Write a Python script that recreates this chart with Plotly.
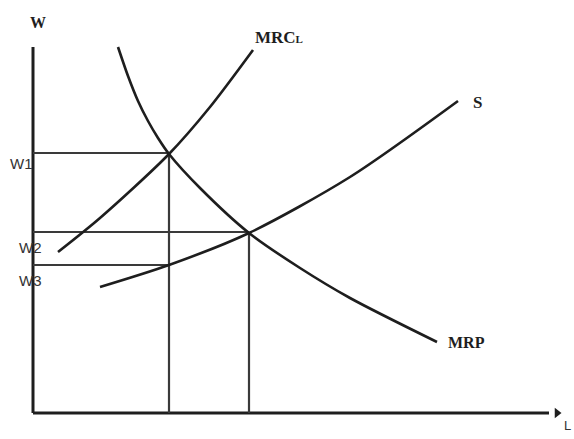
import plotly.graph_objects as go

# Curves (L on x, W on y, arbitrary units)
mrp_x = [8.5, 9.5, 10.5, 11.5, 12.5, 13.6, 16.7, 21.6, 26.7, 31.7, 40.4]
mrp_y = [36.6, 33.7, 31.2, 29.2, 27.5, 25.9, 22.5, 18.0, 14.5, 11.5, 7.1]

mrc_x = [2.5, 6.7, 13.6, 17.7, 22.0]
mrc_y = [16.1, 19.5, 25.9, 30.6, 36.3]

s_x = [6.7, 13.6, 21.6, 31.7, 42.5]
s_y = [12.6, 14.8, 18.0, 23.6, 31.2]

# Equilibrium levels
l1, l2 = 13.6, 21.6
w1, w2, w3 = 26.0, 18.1, 14.8
w_labels = ["W1", "W2", "W3"]

x_end, y_end = 52.4, 36.6

ink = "#1e1e1e"
guide = "#3a3a3a"

fig = go.Figure()

# axes
fig.add_trace(go.Scatter(x=[0, 0], y=[y_end, 0], mode="lines",
                         line=dict(color=ink, width=3)))
fig.add_trace(go.Scatter(x=[0, x_end - 0.8], y=[0, 0], mode="lines",
                         line=dict(color=ink, width=3)))
fig.add_trace(go.Scatter(x=[x_end], y=[0], mode="markers",
                         marker=dict(symbol="triangle-right", size=9, color=ink)))

# guide lines
for xs, ys in [([0, l1], [w1, w1]), ([l1, l1], [w1, 0]),
               ([0, l2], [w2, w2]), ([l2, l2], [w2, 0]),
               ([0, l1], [w3, w3])]:
    fig.add_trace(go.Scatter(x=xs, y=ys, mode="lines",
                             line=dict(color=guide, width=2.2)))

# curves
for xs, ys in [(mrp_x, mrp_y), (mrc_x, mrc_y), (s_x, s_y)]:
    fig.add_trace(go.Scatter(x=xs, y=ys, mode="lines",
                             line=dict(color=ink, width=2.6, shape="spline", smoothing=0.8)))

serif = dict(family="Liberation Serif", size=17, color=ink)
sans = dict(family="Liberation Sans Narrow, Liberation Sans", size=15, color="#333")

notes = [
    dict(x=0.5, y=39.1, text="<b>W</b>", font=dict(family="Liberation Serif", size=16, color=ink), xanchor="center"),
    dict(x=53.4, y=-1.2, text="L", font=dict(family="Liberation Sans", size=13, color="#333"), xanchor="center"),
    dict(x=22.0, y=37.6, text="<b>MRC<span style='font-size:11px'>L</span></b>", font=serif, xanchor="left"),
    dict(x=43.8, y=31.1, text="<b>S</b>", font=serif, xanchor="left"),
    dict(x=41.3, y=7.1, text="<b>MRP</b>", font=dict(family="Liberation Serif", size=16, color=ink), xanchor="left"),
    dict(x=-1.2, y=25.0, text=w_labels[0], font=sans, xanchor="center"),
    dict(x=-0.3, y=16.6, text=w_labels[1], font=sans, xanchor="center"),
    dict(x=-0.3, y=13.3, text=w_labels[2], font=sans, xanchor="center"),
]
for n in notes:
    fig.add_annotation(showarrow=False, yanchor="middle", **n)

fig.update_layout(
    width=574, height=439,
    margin=dict(l=0, r=0, t=0, b=0),
    paper_bgcolor="white", plot_bgcolor="white",
    showlegend=False,
    xaxis=dict(range=[-3.3, 54.1], visible=False),
    yaxis=dict(range=[-2.6, 41.3], visible=False),
)

# drop the default body margin so the figure fills the window exactly
fig.write_html("out.html", config={"displayModeBar": False},
               post_script="document.body.style.margin='0';")
